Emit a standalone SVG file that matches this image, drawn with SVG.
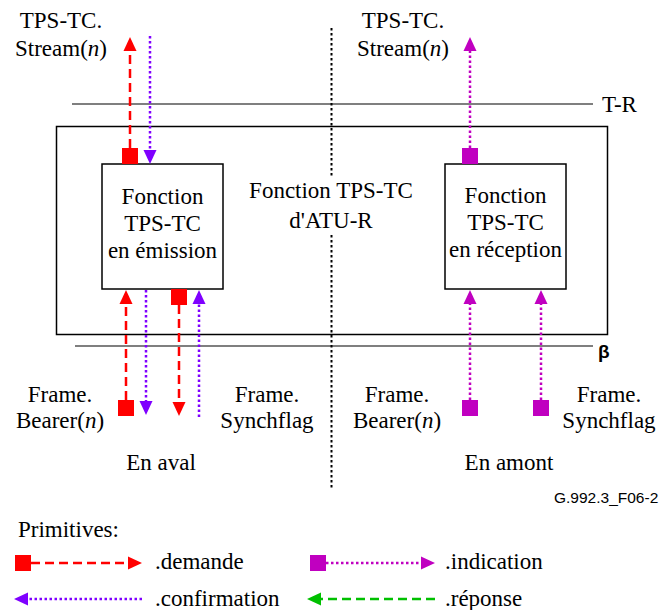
<svg xmlns="http://www.w3.org/2000/svg" width="659" height="610" viewBox="0 0 659 610" font-family="'Liberation Serif', 'DejaVu Serif', 'Times New Roman', serif" font-size="23">
<style>
.c{text-anchor:middle}
.box{fill:#fff;stroke:#000;stroke-width:1.5}
.ref{stroke:#555;stroke-width:1.3;fill:none}
.red{stroke:#ff0000;stroke-width:2.5;stroke-dasharray:9,5;fill:none}
.pur{stroke:#7f00ff;stroke-width:2.5;stroke-dasharray:2.5,2.5;fill:none}
.mag{stroke:#c000c0;stroke-width:2.5;stroke-dasharray:2.5,2.5;fill:none}
.grn{stroke:#00c000;stroke-width:2.5;stroke-dasharray:9,5;fill:none}
.sqr{fill:#ff0000}
.sqm{fill:#c000c0}
</style>
<defs>
<marker id="aR" markerUnits="userSpaceOnUse" markerWidth="14" markerHeight="13" refX="0" refY="6.5" orient="auto" overflow="visible"><path d="M0,0 L14,6.5 L0,13 z" fill="#ff0000"/></marker>
<marker id="aP" markerUnits="userSpaceOnUse" markerWidth="14" markerHeight="13" refX="0" refY="6.5" orient="auto" overflow="visible"><path d="M0,0 L14,6.5 L0,13 z" fill="#7f00ff"/></marker>
<marker id="aM" markerUnits="userSpaceOnUse" markerWidth="14" markerHeight="13" refX="0" refY="6.5" orient="auto" overflow="visible"><path d="M0,0 L14,6.5 L0,13 z" fill="#c000c0"/></marker>
<marker id="aG" markerUnits="userSpaceOnUse" markerWidth="14" markerHeight="13" refX="0" refY="6.5" orient="auto" overflow="visible"><path d="M0,0 L14,6.5 L0,13 z" fill="#00c000"/></marker>
</defs>

<g id="reference-lines">
<line class="ref" x1="72" y1="104" x2="593" y2="104"/>
<text x="602" y="112">T-R</text>
<line class="ref" x1="75" y1="346" x2="593" y2="346"/>
<text x="598" y="358" font-family="'Liberation Sans', Arial, sans-serif" font-weight="bold" font-size="19">β</text>
<line x1="331.5" y1="28" x2="331.5" y2="177" stroke="#000" stroke-width="2" stroke-dasharray="2.5,2.5"/>
<line x1="331.5" y1="235" x2="331.5" y2="490" stroke="#000" stroke-width="2" stroke-dasharray="2.5,2.5"/>
</g>

<g id="atu-r">
<rect x="56.5" y="126.5" width="551" height="208" fill="none" stroke="#000" stroke-width="1.5"/>
<text class="c" x="331" y="198">Fonction TPS-TC</text>
<text class="c" x="331" y="228">d'ATU-R</text>
</g>

<g id="emission">
<rect class="box" x="102" y="164" width="121" height="125"/>
<text class="c" x="162.5" y="204">Fonction</text>
<text class="c" x="162.5" y="231">TPS-TC</text>
<text class="c" x="162.5" y="258">en émission</text>
</g>

<g id="reception">
<rect class="box" x="445" y="164" width="121" height="125"/>
<text class="c" x="505.5" y="203">Fonction</text>
<text class="c" x="505.5" y="230">TPS-TC</text>
<text class="c" x="505.5" y="257">en réception</text>
</g>

<g id="labels">
<text class="c" x="61" y="28">TPS-TC.</text>
<text class="c" x="61" y="56">Stream(<tspan font-style="italic">n</tspan>)</text>
<text class="c" x="403" y="28">TPS-TC.</text>
<text class="c" x="403" y="56">Stream(<tspan font-style="italic">n</tspan>)</text>
<text class="c" x="60" y="402">Frame.</text>
<text class="c" x="60" y="428">Bearer(<tspan font-style="italic">n</tspan>)</text>
<text class="c" x="267" y="402">Frame.</text>
<text class="c" x="267" y="428">Synchflag</text>
<text class="c" x="397" y="402">Frame.</text>
<text class="c" x="397" y="428">Bearer(<tspan font-style="italic">n</tspan>)</text>
<text class="c" x="609" y="402">Frame.</text>
<text class="c" x="609" y="428">Synchflag</text>
<text class="c" x="161" y="470">En aval</text>
<text class="c" x="509" y="470">En amont</text>
<text x="554" y="503" font-family="'Liberation Sans', Arial, sans-serif" font-size="15.5">G.992.3_F06-2</text>
</g>

<g id="connectors">
<line class="red" x1="130" y1="148" x2="130" y2="51" marker-end="url(#aR)"/>
<rect class="sqr" x="122" y="148" width="16" height="16"/>
<line class="pur" x1="150" y1="36" x2="150" y2="150" marker-end="url(#aP)"/>
<line class="mag" x1="470" y1="148" x2="470" y2="51" marker-end="url(#aM)"/>
<rect class="sqm" x="462" y="148" width="16" height="16"/>
<line class="red" x1="126" y1="400" x2="126" y2="304" marker-end="url(#aR)"/>
<rect class="sqr" x="118" y="400" width="16" height="16"/>
<line class="pur" x1="146" y1="290" x2="146" y2="401" marker-end="url(#aP)"/>
<line class="red" x1="179" y1="305" x2="179" y2="402" marker-end="url(#aR)"/>
<rect class="sqr" x="171" y="289" width="16" height="16"/>
<line class="pur" x1="199" y1="417" x2="199" y2="304" marker-end="url(#aP)"/>
<line class="mag" x1="470" y1="400" x2="470" y2="304" marker-end="url(#aM)"/>
<rect class="sqm" x="462" y="400" width="16" height="16"/>
<line class="mag" x1="541" y1="400" x2="541" y2="304" marker-end="url(#aM)"/>
<rect class="sqm" x="533" y="400" width="16" height="16"/>
</g>

<g id="legend">
<text x="18" y="537">Primitives:</text>
<rect class="sqr" x="15" y="555" width="16" height="16"/>
<line class="red" x1="31" y1="563" x2="128" y2="563" marker-end="url(#aR)"/>
<text x="155" y="569">.demande</text>
<rect class="sqm" x="310" y="555" width="16" height="16"/>
<line class="mag" x1="326" y1="563" x2="421" y2="563" marker-end="url(#aM)"/>
<text x="445" y="569">.indication</text>
<line class="pur" x1="142" y1="599" x2="28" y2="599" marker-end="url(#aP)"/>
<text x="155" y="606">.confirmation</text>
<line class="grn" x1="435" y1="599" x2="321" y2="599" marker-end="url(#aG)"/>
<text x="445" y="606">.réponse</text>
</g>
</svg>
